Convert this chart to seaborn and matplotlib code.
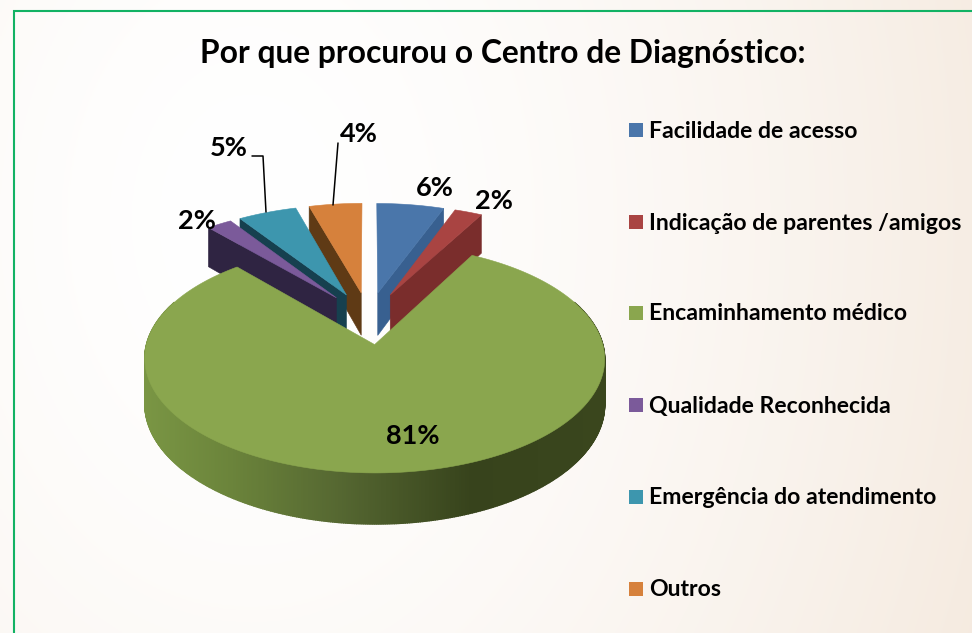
import numpy as np
import pandas as pd
import seaborn as sns
from matplotlib import pyplot as plt
from matplotlib.colors import to_rgb

titulo = "Por que procurou o Centro de Diagnóstico:"
categorias = ["Facilidade de acesso", "Indicação de parentes /amigos", "Encaminhamento médico",
              "Qualidade Reconhecida", "Emergência do atendimento", "Outros"]
valores = [5.6, 2.3, 80.7, 2.1, 4.9, 4.4]
cores_topo = ["#4a76aa", "#a94442", "#8aa64e", "#7b5a9a", "#3d96ae", "#d6813c"]
cores_lado = ["#386090", "#7a2d2c", "#556731", "#2f2442", "#16404f", "#5f3a15"]

# pie projection, in pixels
CX, CY = 368.5, 318
A, B = 221.5, 106
PERSP = 0.12
EXPLODE = 0.245
DEPTH = 43.5

sns.set_theme(style="white")
plt.rcParams["font.family"] = ["Lato", "DejaVu Sans"]


def project(u, v):
    s = 1 / (1 + PERSP * v)
    return CX + A * u * s, CY - B * v * s, s


def arc_points(t0, t1, mid, n=600):
    ang = np.radians(np.linspace(t0, t1, n))
    m = np.radians(mid)
    return np.sin(ang) + EXPLODE * np.sin(m), np.cos(ang) + EXPLODE * np.cos(m)


def wall(ax, x0, y0, s0, x1, y1, s1, cor, z, lw=0.4):
    ax.fill([x0, x1, x1, x0], [y0, y1, y1 + DEPTH * s1, y0 + DEPTH * s0],
            color=cor, lw=lw, zorder=z)


def fatia(ax, t0, t1, topo, lado, z):
    mid = (t0 + t1) / 2
    m = np.radians(mid)
    ou, ov = EXPLODE * np.sin(m), EXPLODE * np.cos(m)
    ax_, ay_, as_ = project(ou, ov)
    u, v = arc_points(t0, t1, mid)
    xs, ys, ss = project(u, v)

    if mid < 90:
        wall(ax, ax_, ay_, as_, xs[-1], ys[-1], ss[-1], lado, z)
    elif mid > 270:
        wall(ax, ax_, ay_, as_, xs[0], ys[0], ss[0], lado, z)
    else:
        # front rim, shaded left to right
        stops_x = [143, 230, 340, 470, 604]
        stops_c = np.array([to_rgb(c) for c in ["#7a9644", "#6b843b", "#556731", "#37431c", "#3a461d"]])
        for i in range(len(xs) - 1):
            if v[i] > 0.15 and v[i + 1] > 0.15:
                continue
            xm = (xs[i] + xs[i + 1]) / 2
            cor = [np.interp(xm, stops_x, stops_c[:, c]) for c in range(3)]
            wall(ax, xs[i], ys[i], ss[i], xs[i + 1], ys[i + 1], ss[i + 1], cor, z, lw=1.0)
    ax.fill(np.r_[ax_, xs], np.r_[ay_, ys], color=topo, lw=0.4, zorder=z + 0.5)


fig = plt.figure(figsize=(9.72, 6.33), dpi=100)
ax = fig.add_axes([0, 0, 1, 1])

# background
yy, xx = np.mgrid[0:633:2, 0:972:2]
dist = np.clip(np.hypot((xx - 250) / 800, (yy - 220) / 1100), 0, 1)
ini, fim = np.array(to_rgb("#ffffff")), np.array(to_rgb("#f5eadf"))
fundo = ini + (fim - ini) * dist[..., None] ** 1.6
ax.imshow(fundo, extent=[0, 972, 633, 0], zorder=0, aspect="auto")

ax.plot([13.5, 13.5, 972], [633, 10.5, 10.5], color="#12b264", lw=1.5, zorder=1, solid_joinstyle="miter")

limites = np.r_[0, np.cumsum(valores)] * 360 / sum(valores)
ordem = [5, 4, 3, 0, 1, 2]
for k, i in enumerate(ordem):
    fatia(ax, limites[i], limites[i + 1], cores_topo[i], cores_lado[i], 3 + k)

# leader lines
ax.plot([252, 263, 266], [156, 156, 212], color="black", lw=1.1, zorder=12)
ax.plot([338, 333], [143, 205], color="black", lw=1.1, zorder=12)

# data labels
pos_rotulos = [(435, 188), (494, 201), (413, 436), (197, 221), (229, 148), (359, 134)]
for val, (px, py) in zip(valores, pos_rotulos):
    ax.text(px, py, f"{val:.0f}%", fontsize=19.5, fontweight="bold", color="black",
            ha="center", va="center", zorder=13)

ax.text(503, 54, titulo, fontsize=22.9, fontweight="bold", color="black", ha="center", va="center", zorder=13)

# legend
leg = pd.DataFrame({"cat": categorias, "x": 636, "y": [130, 222, 313, 405, 497, 589]})
sns.scatterplot(data=leg, x="x", y="y", hue="cat", palette=cores_topo, marker="s", s=100,
                linewidth=0, legend=False, ax=ax, zorder=13)
for cat, py in zip(categorias, leg["y"]):
    ax.text(649, py + 1, cat, fontsize=16.6, fontweight="bold", color="black", ha="left", va="center", zorder=13)

ax.set_xlim(0, 972)
ax.set_ylim(633, 0)
ax.set_axis_off()

fig.savefig("out.png", dpi=100)
